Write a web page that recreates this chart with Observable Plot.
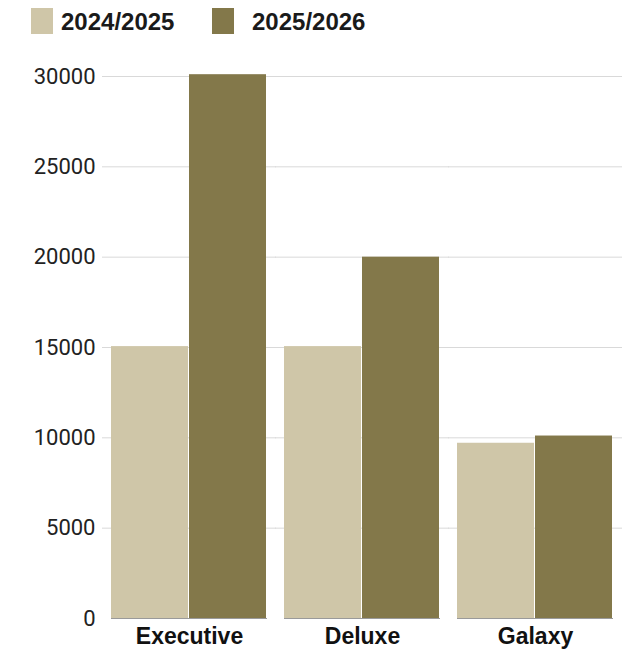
<!DOCTYPE html>
<html>
<head>
<meta charset="utf-8">
<script src="https://cdn.jsdelivr.net/npm/d3@7"></script>
<script src="https://cdn.jsdelivr.net/npm/@observablehq/plot@0.6"></script>
<style>
  html, body { margin: 0; padding: 0; background: #fff; }
  body { width: 624px; height: 650px; overflow: hidden; }
  #legend { position: relative; width: 624px; height: 42px; }
  #legend svg { display: block; }
  #chart svg { display: block; }
</style>
</head>
<body>
<div id="legend"></div>
<div id="chart"></div>
<script>
const categories = ["Executive", "Deluxe", "Galaxy"];
const seriesNames = ["2024/2025", "2025/2026"];
const values2024_2025 = [15050, 15050, 9700];
const values2025_2026 = [30100, 20000, 10100];
const yTicks = [0, 5000, 10000, 15000, 20000, 25000, 30000];
const seriesColors = ["#cfc6a8", "#83784a"];

const data = categories.flatMap((c, i) => [
  {category: c, series: seriesNames[0], value: values2024_2025[i]},
  {category: c, series: seriesNames[1], value: values2025_2026[i]}
]);

// Legend
const legendX = [31, 212];
const lg = d3.select("#legend").append("svg").attr("width", 624).attr("height", 42);
seriesNames.forEach((s, i) => {
  lg.append("rect").attr("x", legendX[i]).attr("y", 8).attr("width", 22).attr("height", 26).attr("fill", seriesColors[i]);
  lg.append("text").attr("x", legendX[i] + (i === 0 ? 30 : 40)).attr("y", 30)
    .attr("font-family", "'Liberation Sans', Arial, sans-serif")
    .attr("font-weight", "bold").attr("font-size", 24).attr("fill", "#1a1a1a").text(s);
});

function build(superFacet) {
  const gridOpts = superFacet ? {stroke: "#d9d9d9", strokeOpacity: 1, facet: "super"}
                              : {stroke: "#d9d9d9", strokeOpacity: 1, insetLeft: -9, insetRight: -9};
  const baseOpts = superFacet ? {stroke: "#9a9a9a", facet: "super"} : {stroke: "#9a9a9a"};
  return Plot.plot({
    width: 624,
    height: 608,
    marginTop: 34,
    marginBottom: 32,
    marginLeft: 110,
    marginRight: 10,
    style: {fontFamily: "Roboto, 'Liberation Sans', sans-serif", fontSize: "22px", color: "#222", background: "#fff"},
    fx: {domain: categories, paddingInner: 0.1, paddingOuter: 0, label: null, axis: null},
    x: {domain: seriesNames, paddingInner: 0.008, paddingOuter: 0, axis: null},
    y: {domain: [0, 30000], ticks: yTicks, tickSize: 0, tickPadding: 16, label: null, tickFormat: d => String(d)},
    color: {domain: seriesNames, range: seriesColors},
    marks: [
      Plot.ruleY(yTicks.filter(t => t > 0), gridOpts),
      Plot.barY(data, {fx: "category", x: "series", y: "value", fill: "series"}),
      Plot.ruleY([0], baseOpts),
      Plot.text(categories, {fx: d => d, text: d => d, frameAnchor: "bottom", dy: 25,
        fontWeight: "bold", fontSize: 23, fill: "#111", fontFamily: "'Liberation Sans', Arial, sans-serif"})
    ]
  });
}

let chart;
try { chart = build(true); } catch (e) { chart = build(false); }
document.getElementById("chart").appendChild(chart);
</script>
</body>
</html>
